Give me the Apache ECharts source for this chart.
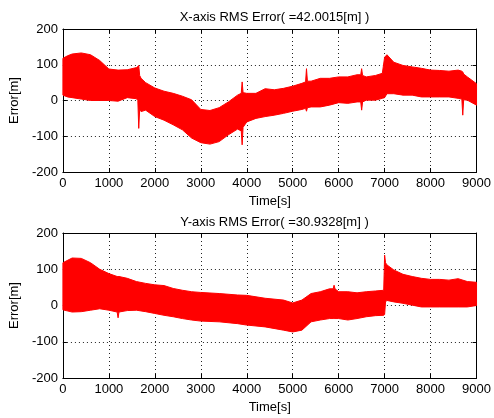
<!DOCTYPE html>
<html>
<head>
<meta charset="utf-8">
<script src="https://cdn.jsdelivr.net/npm/echarts@6/dist/echarts.min.js"></script>
<style>
html,body{margin:0;padding:0;background:#fff;}
#c{width:494px;height:418px;}
</style>
</head>
<body>
<div id="c"></div>
<script>
// X-axis error band (upper / lower envelope of the noisy trace)
const xTime  = [0,100,200,400,600,800,1000,1200,1400,1600,1630,1650,1670,1700,1800,2000,2200,2400,2600,2800,3000,3200,3400,3600,3800,3880,3900,3920,4000,4200,4400,4600,4800,5000,5200,5280,5300,5320,5400,5600,5800,6000,6200,6400,6480,6500,6520,6600,6800,6950,7000,7050,7200,7400,7600,7800,8000,8200,8400,8600,8680,8700,8720,8800,9000];
const xUpper = [118,125,130,133,128,112,88,85,86,92,95,98,70,62,50,35,26,20,12,2,-25,-28,-20,-4,15,20,52,22,20,20,33,30,34,40,48,52,89,54,54,62,62,66,66,72,72,89,70,66,70,76,121,128,107,98,94,90,85,84,82,85,82,80,74,66,47];
const xLower = [15,10,8,4,0,0,0,-2,8,5,0,-78,-25,-31,-27,-45,-55,-68,-82,-105,-118,-122,-115,-96,-80,-85,-124,-75,-60,-50,-45,-41,-36,-30,-25,-22,-30,-20,-18,-18,-13,-6,-8,-4,-4,-27,-4,1,1,6,8,19,19,15,15,10,10,10,10,6,4,-41,2,1,-13];
// Y-axis error band
const yTime  = [0,200,400,600,800,1000,1180,1200,1220,1400,1600,1800,2000,2200,2400,2600,2800,3000,3400,3800,4000,4400,4800,5000,5200,5400,5600,5800,5880,5900,5920,6000,6200,6400,6600,6800,6980,7000,7020,7050,7200,7400,7600,7800,8000,8200,8400,8600,8800,9000];
const yUpper = [118,131,130,118,100,88,80,80,80,75,66,61,57,55,47,42,38,36,33,29,28,20,15,7,15,33,38,46,46,56,46,38,38,35,38,40,42,139,118,112,98,86,80,75,72,72,70,74,66,64];
const yLower = [-12,-18,-17,-13,-9,-13,-18,-34,-18,-14,-13,-17,-22,-27,-31,-36,-40,-43,-45,-50,-54,-59,-68,-73,-68,-45,-40,-36,-36,-36,-36,-36,-40,-36,-31,-28,-27,-25,10,14,10,6,1,-4,-4,-4,-4,-4,-4,0];
// axis ticks
const timeTicks = {min:0, max:9000, interval:1000};
const errTicks  = {min:-200, max:200, interval:100};
const titles = ['X-axis RMS Error( =42.0015[m] )', 'Y-axis RMS Error( =30.9328[m] )'];

const FONT = 'Liberation Sans, Arial, sans-serif';
const RED = '#ff0000';

const grids = [
  {left:60, top:29, width:419, height:143, show:false},
  {left:60, top:233, width:419, height:145, show:false}
];

function mkX(gi, pos){
  const main = pos==='bottom';
  return {
    type:'value', gridIndex:gi, position:pos,
    min:timeTicks.min, max:timeTicks.max, interval:timeTicks.interval,
    name: main ? 'Time[s]' : '', nameLocation:'middle', nameGap:23,
    nameTextStyle:{fontFamily:FONT, fontSize:13, color:'#000'},
    axisLine:{show:true, onZero:false, lineStyle:{color:'#000', width:1}},
    axisTick:{show:true, inside:true, length:4, lineStyle:{color:'#000'}},
    axisLabel:{show:main, margin:5, fontFamily:FONT, fontSize:13, color:'#000', formatter:v=>String(v)},
    splitLine:{show:main, lineStyle:{color:'#222', type:[1,3], width:1}}
  };
}
function mkY(gi, pos){
  const main = pos==='left';
  return {
    type:'value', gridIndex:gi, position:pos,
    min:errTicks.min, max:errTicks.max, interval:errTicks.interval,
    name: main ? 'Error[m]' : '', nameLocation:'middle', nameGap:38, nameRotate:90,
    nameTextStyle:{fontFamily:FONT, fontSize:13, color:'#000'},
    axisLine:{show:true, onZero:false, lineStyle:{color:'#000', width:1}},
    axisTick:{show:true, inside:true, length:4, lineStyle:{color:'#000'}},
    axisLabel:{show:main, margin:5, fontFamily:FONT, fontSize:13, color:'#000', formatter:v=>String(v)},
    splitLine:{show:main, lineStyle:{color:'#222', type:[1,3], width:1}}
  };
}

function band(gi, t, up, lo){
  return {
    type:'custom', xAxisIndex:gi*2, yAxisIndex:gi*2, silent:true, z:3,
    coordinateSystem:'cartesian2d',
    data: t.map((x,i)=>[x, lo[i], up[i]]),
    encode:{x:0, y:[1,2]},
    renderItem:function(params, api){
      if (params.dataIndex !== 0) return null;
      const pts = [];
      for (let i=0;i<t.length;i++) pts.push(api.coord([t[i], up[i]]));
      for (let i=t.length-1;i>=0;i--) pts.push(api.coord([t[i], lo[i]]));
      return {type:'polygon', shape:{points:pts}, style:{fill:RED, stroke:RED, lineWidth:1}};
    }
  };
}

const option = {
  animation:false,
  backgroundColor:'#fff',
  title:[
    {text:titles[0], left:269.5, top:6, textAlign:'center', textStyle:{fontFamily:FONT, fontSize:13, fontWeight:'normal', color:'#000'}},
    {text:titles[1], left:269.5, top:211, textAlign:'center', textStyle:{fontFamily:FONT, fontSize:13, fontWeight:'normal', color:'#000'}}
  ],
  grid:grids,
  xAxis:[mkX(0,'bottom'), mkX(0,'top'), mkX(1,'bottom'), mkX(1,'top')],
  yAxis:[mkY(0,'left'), mkY(0,'right'), mkY(1,'left'), mkY(1,'right')],
  series:[band(0, xTime, xUpper, xLower), band(1, yTime, yUpper, yLower)]
};

const chart = echarts.init(document.getElementById('c'), null, {renderer:'canvas'});
chart.setOption(option);
</script>
</body>
</html>
